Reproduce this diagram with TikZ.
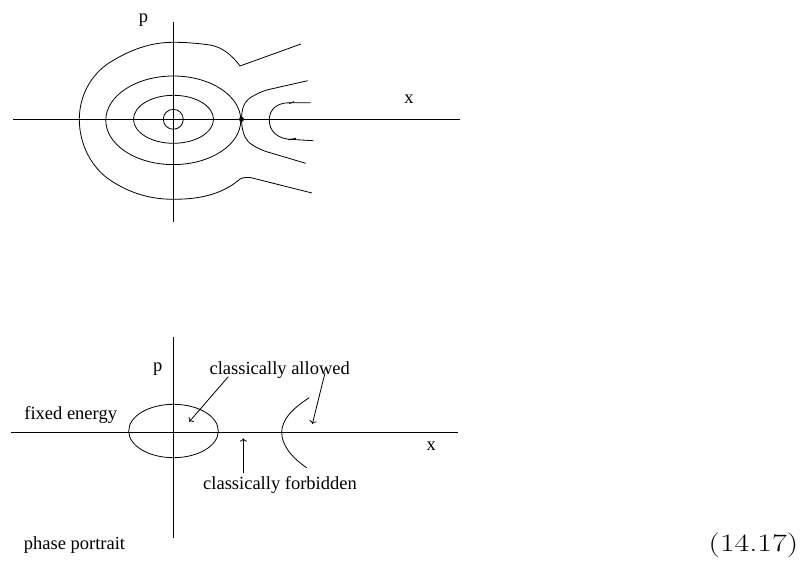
\documentclass[tikz,border=0pt]{standalone}
\usepackage{fontspec}
\usepackage{tikz}
\usetikzlibrary{
    arrows.meta,
    positioning,
    calc
}
\newfontfamily\figfont{Liberation Serif}
\tikzset{
  axis/.style    = {line width=0.8pt},
  orbit/.style   = {line width=0.8pt},
  lbl/.style     = {font=\figfont\fontsize{18.5}{20}\selectfont, anchor=base, inner sep=0pt},
  arr/.style     = {->, line width=0.8pt}
}

\begin{document}
\begin{tikzpicture}[x=1pt,y=-1pt]
\useasboundingbox (0,0) rectangle (801,564);
% upper picture: level curves
\draw[axis] (13,119.3) -- (460,119.3);
\draw[axis] (173.3,22) -- (173.3,222);
\node[lbl] (pup) at (143.5,23) {p};
\node[lbl] (xup) at (409,103.3) {x};
\draw[orbit] (173.3,119.3) circle (10);
\draw[orbit] (173.5,119.3) ellipse (40 and 24);
\draw[orbit] (173.3,120.3) ellipse (67.5 and 44.3);
\coordinate (saddle) at (241.5,119.3);
\fill (saddle) circle (2.5);
\draw[orbit] (307.7,80.7) -- (266.7,90) plot[smooth, tension=0.6] coordinates
  {(266.7,90) (258.3,93.3) (248.3,99.3) (243.3,106.7) (saddle) (243.3,132.3)
   (248.3,141.7) (258.3,148.3) (266.7,151.7)} -- (305.7,163.3);
\draw[orbit] (301,44) -- (240,66) .. controls (232,55) and (222,47) .. (210,45)
  .. controls (195,43) and (185,42.3) .. (173.3,42.3)
  .. controls (150,42.3) and (130,50) .. (110,62.3)
  .. controls (90,75) and (79.3,97) .. (79.3,119.3)
  .. controls (79.3,145) and (92,168) .. (110,180)
  .. controls (125,190) and (145,199.3) .. (173.3,199.3)
  .. controls (205,199.3) and (225,192) .. (240,179)
  .. controls (244,177) and (248,177.3) .. (251,177.7) -- (312,193);
\draw[orbit] (310.7,102.7) -- (290,102.7) .. controls (276,102.7) and (269.3,110) ..
  (269.3,120) .. controls (269.3,131) and (277,139.3) .. (293,139.5) -- (313.3,140.7);
\draw[orbit] (289,103.6) -- (294,101.6);
\draw[orbit] (288,139.8) -- (296,138.3);
% lower picture: fixed energy
\draw[axis] (11,432.7) -- (458,432.7);
\draw[axis] (173.3,337) -- (173.3,538);
\node[lbl] (pdown) at (157.7,371) {p};
\node[lbl] (xdown) at (431.3,450) {x};
\draw[orbit] (173.5,431) ellipse (44.8 and 26.7);
\draw[orbit] (309.3,397.7) .. controls (290,410) and (281.7,421) .. (281.7,432.7)
  .. controls (281.7,445) and (292,458) .. (306.7,467.7);
\node[lbl] (energy) at (70.7,419.3) {fixed energy};
\node[lbl] (allowed) at (279.7,374.3) {classically allowed};
\node[lbl] (forbidden) at (280,489.3) {classically forbidden};
\node[lbl] (portrait) at (74.5,549.3) {phase portrait};
\coordinate (a1) at (228.3,376.7);
\coordinate (a1end) at (189.3,421.7);
\coordinate (a2) at (325,373);
\coordinate (a2end) at (312.3,424);
\coordinate (f1) at (243.3,473.3);
\coordinate (f1end) at (243.3,438.3);
\draw[arr] (a1) -- (a1end);
\draw[arr] (a2) -- (a2end);
\draw[arr] (f1) -- (f1end);
\node[font=\fontsize{25}{27}\selectfont, anchor=base east, inner sep=0pt] (eqno)
  at (798.3,551.7) {\scalebox{1.28}[1]{(14.17)}};
\end{tikzpicture}
\end{document}
